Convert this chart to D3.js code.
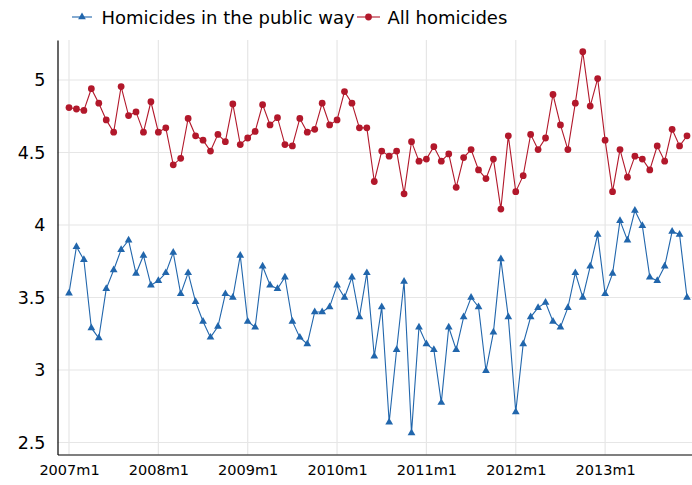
<!DOCTYPE html>
<html>
<head>
<meta charset="utf-8">
<script src="https://cdn.jsdelivr.net/npm/d3@7"></script>
<style>
  html, body { margin: 0; padding: 0; background: #fff; }
  svg { display: block; }
  text { font-family: "DejaVu Sans", sans-serif; fill: #000; }
</style>
</head>
<body>
<svg id="chart" width="692" height="485"></svg>
<script>
// ---- data (monthly, 2007m1 .. 2013m12) ----
const startYear = 2007;
const nMonths = 84;
const publicWay = [
  3.53, 3.85, 3.76, 3.29, 3.22, 3.56, 3.69, 3.83, 3.895, 3.665,
  3.79, 3.585, 3.615, 3.67, 3.81, 3.525, 3.67, 3.47, 3.335, 3.225,
  3.30, 3.525, 3.50, 3.79, 3.335, 3.295, 3.715, 3.585, 3.56, 3.64,
  3.335, 3.225, 3.18, 3.40, 3.40, 3.435, 3.585, 3.50, 3.64, 3.365,
  3.67, 3.095, 3.435, 2.64, 3.14, 3.61, 2.565, 3.295, 3.18, 3.14,
  2.775, 3.295, 3.14, 3.365, 3.50, 3.435, 2.995, 3.26, 3.765, 3.365,
  2.71, 3.18, 3.365, 3.43, 3.465, 3.335, 3.295, 3.43, 3.67, 3.50,
  3.715, 3.935, 3.525, 3.665, 4.03, 3.895, 4.10, 3.995, 3.64, 3.615,
  3.715, 3.955, 3.935, 3.50
];
const allHomicides = [
  4.81, 4.80, 4.79, 4.94, 4.84, 4.725, 4.64, 4.955, 4.755, 4.78,
  4.64, 4.85, 4.64, 4.67, 4.415, 4.46, 4.735, 4.615, 4.585, 4.51,
  4.625, 4.575, 4.835, 4.555, 4.60, 4.645, 4.83, 4.69, 4.74, 4.555,
  4.545, 4.735, 4.64, 4.66, 4.84, 4.69, 4.725, 4.92, 4.84, 4.67,
  4.67, 4.30, 4.51, 4.475, 4.51, 4.215, 4.575, 4.44, 4.455, 4.54,
  4.44, 4.49, 4.26, 4.465, 4.52, 4.38, 4.32, 4.455, 4.11, 4.615,
  4.23, 4.34, 4.625, 4.52, 4.60, 4.90, 4.69, 4.52, 4.84, 5.195,
  4.82, 5.01, 4.585, 4.23, 4.52, 4.33, 4.475, 4.455, 4.38, 4.545,
  4.44, 4.66, 4.545, 4.615
];
const xTickMonths = [0, 12, 24, 36, 48, 60, 72];
const xTickLabels = ["2007m1", "2008m1", "2009m1", "2010m1", "2011m1", "2012m1", "2013m1"];
const yTicks = [2.5, 3, 3.5, 4, 4.5, 5];
const yTickLabels = ["2.5", "3", "3.5", "4", "4.5", "5"];
const seriesNames = ["Homicides in the public way", "All homicides"];

// ---- layout ----
const colBlue = "#2166ac";
const colRed = "#b2182b";
const gridCol = "#e6e6e6";
const mLeft = 57.5, mRight = 692, mTop = 40, mBottom = 454.5;

const svg = d3.select("#chart");
const x = d3.scaleLinear().domain([-1.545, 83.67]).range([mLeft, mRight]);
const y = d3.scaleLinear().domain([2.4172, 5.2759]).range([mBottom, mTop]);

// grid
svg.append("g").selectAll("line").data(yTicks).join("line")
  .attr("x1", mLeft).attr("x2", mRight)
  .attr("y1", d => y(d)).attr("y2", d => y(d))
  .attr("stroke", gridCol).attr("stroke-width", 1.2);
svg.append("g").selectAll("line").data(xTickMonths).join("line")
  .attr("x1", d => x(d)).attr("x2", d => x(d))
  .attr("y1", mTop).attr("y2", mBottom)
  .attr("stroke", gridCol).attr("stroke-width", 1.2);

// axes
const yAxis = d3.axisLeft(y).tickValues(yTicks)
  .tickFormat((d, i) => yTickLabels[i]).tickSize(0).tickPadding(12);
const gy = svg.append("g").attr("transform", `translate(${mLeft},0)`).call(yAxis);
gy.select(".domain").attr("stroke", "#000").attr("stroke-width", 1.2);
gy.selectAll("text").attr("font-size", "17.5px").attr("font-family", "DejaVu Sans").attr("fill", "#000");

const xAxis = d3.axisBottom(x).tickValues(xTickMonths)
  .tickFormat((d, i) => xTickLabels[i]).tickSize(0).tickPadding(10);
const gx = svg.append("g").attr("transform", `translate(0,${mBottom})`).call(xAxis);
gx.select(".domain").attr("stroke", "#000").attr("stroke-width", 1.2);
gx.selectAll("text").attr("font-size", "14.5px").attr("font-family", "DejaVu Sans").attr("fill", "#000");

// lines
const line = d3.line().x((d, i) => x(i)).y(d => y(d));
svg.append("path").datum(publicWay).attr("d", line)
  .attr("fill", "none").attr("stroke", colBlue).attr("stroke-width", 1.1);
svg.append("path").datum(allHomicides).attr("d", line)
  .attr("fill", "none").attr("stroke", colRed).attr("stroke-width", 1.1);

const tri = d3.symbol().type(d3.symbolTriangle).size(26);
const circ = d3.symbol().type(d3.symbolCircle).size(36);

svg.append("g").selectAll("path").data(publicWay).join("path")
  .attr("d", tri)
  .attr("transform", (d, i) => `translate(${x(i)},${y(d)})`)
  .attr("fill", colBlue);
svg.append("g").selectAll("path").data(allHomicides).join("path")
  .attr("d", circ)
  .attr("transform", (d, i) => `translate(${x(i)},${y(d)})`)
  .attr("fill", colRed);

// legend
const legend = [
  { name: seriesNames[0], color: colBlue, sym: tri, x0: 72, x1: 92, tx: 101.5 },
  { name: seriesNames[1], color: colRed, sym: circ, x0: 357, x1: 380, tx: 387.5 }
];
const lg = svg.append("g");
legend.forEach(l => {
  lg.append("line").attr("x1", l.x0).attr("x2", l.x1).attr("y1", 17).attr("y2", 17)
    .attr("stroke", l.color).attr("stroke-width", 1.1);
  lg.append("path").attr("d", l.sym).attr("fill", l.color)
    .attr("transform", `translate(${(l.x0 + l.x1) / 2},17)`);
  lg.append("text").attr("x", l.tx).attr("y", 24).attr("font-size", "18px").text(l.name);
});
</script>
</body>
</html>
